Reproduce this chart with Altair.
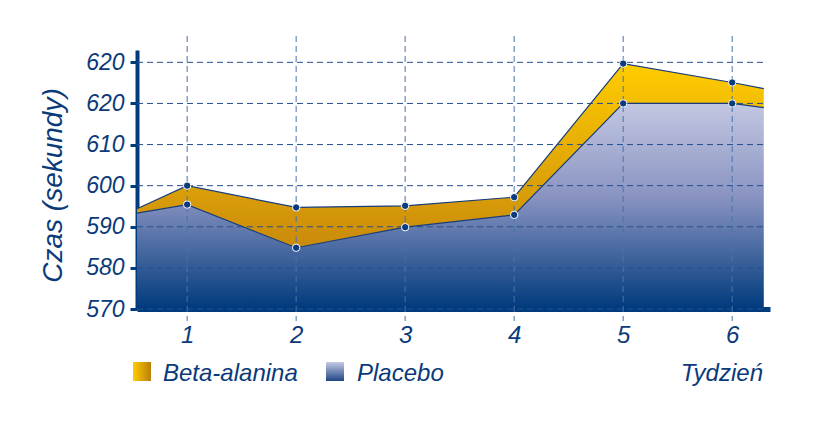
import altair as alt
import pandas as pd

# ---- data ----
weeks = [0.54, 1, 2, 3, 4, 5, 6, 6.29]
beta_alanina = [594.4, 600.0, 594.7, 595.1, 597.2, 629.7, 625.1, 623.6]
placebo = [593.3, 595.4, 584.9, 589.9, 592.9, 620.0, 620.0, 619.0]
point_weeks = [1, 2, 3, 4, 5, 6]
x_tick_values = [1, 2, 3, 4, 5, 6]
y_tick_values = [570, 580, 590, 600, 610, 620, 630]
y_tick_labels = ["570", "580", "590", "600", "610", "620", "620"]
series_names = ["Beta-alanina", "Placebo"]
x_title = "Tydzień"
y_title = "Czas (sekundy)"

df = pd.DataFrame({"week": weeks, "beta": beta_alanina, "placebo": placebo})
pts = df[df["week"].isin(point_weeks)]
ygrid = pd.DataFrame({"v": y_tick_values})
xgrid = pd.DataFrame({"w": x_tick_values})

FONT = "Liberation Sans, Arial, sans-serif"
BLUE = "#0b3a7a"
W, H = 633, 259

xs = alt.Scale(domain=[0.54, 6.347], nice=False, zero=False)
ys = alt.Scale(domain=[570, 633], nice=False, zero=False)

label_expr = "''"
for v, l in zip(y_tick_values, y_tick_labels):
    label_expr = f"datum.value == {v} ? '{l}' : ({label_expr})"

beta_grad = alt.Gradient(gradient="linear", x1=0, x2=0, y1=0, y2=1,
                         stops=[alt.GradientStop(color="#ffcc00", offset=0),
                                alt.GradientStop(color="#c98a0c", offset=1)])
plac_grad = alt.Gradient(gradient="linear", x1=0, x2=0, y1=0, y2=1,
                         stops=[alt.GradientStop(color="#c2c7e1", offset=0),
                                alt.GradientStop(color="#8a94c2", offset=0.45),
                                alt.GradientStop(color="#003a7c", offset=1)])
beta_sw = alt.Gradient(gradient="linear", x1=0, x2=1, y1=0, y2=0,
                       stops=[alt.GradientStop(color="#ffcc00", offset=0),
                              alt.GradientStop(color="#b97f0a", offset=1)])
plac_sw = alt.Gradient(gradient="linear", x1=0, x2=0, y1=0, y2=1,
                       stops=[alt.GradientStop(color="#c5cae3", offset=0),
                              alt.GradientStop(color="#1f4585", offset=1)])

xaxis = alt.Axis(values=x_tick_values, format="d", grid=False, ticks=False, tickSize=0,
                 labelPadding=33, labelBaseline="alphabetic", labelFontSize=24,
                 labelFont=FONT, labelFontStyle="italic", labelColor=BLUE,
                 domainColor="#003c7d", domainWidth=5, title=None, labelAngle=0)
yaxis = alt.Axis(values=y_tick_values, grid=False, labelExpr=label_expr,
                 tickSize=7, tickWidth=3, tickColor="#003c7d", labelPadding=6,
                 labelFontSize=23, labelFont=FONT, labelFontStyle="italic",
                 labelColor=BLUE, domainColor="#003c7d", domainWidth=4,
                 title=y_title, titleFont=FONT, titleFontStyle="italic",
                 titleFontWeight="normal", titleFontSize=28, titleColor=BLUE,
                 titleX=-76, titleY=135, titleAngle=-90, titleAlign="center",
                 titleBaseline="alphabetic")

base = alt.Chart(df)

plac_area = base.mark_area(fill=plac_grad, clip=False).encode(
    x=alt.X("week:Q", scale=xs, axis=xaxis),
    y=alt.Y("placebo:Q", scale=ys, axis=yaxis),
    y2=alt.datum(570),
)
beta_area = base.mark_area(fill=beta_grad).encode(
    x=alt.X("week:Q", scale=xs),
    y=alt.Y("beta:Q", scale=ys),
    y2="placebo:Q",
)
hgrid = alt.Chart(ygrid).mark_rule(color="#244f90", strokeWidth=1, strokeDash=[6, 4]).encode(
    y=alt.Y("v:Q", scale=ys),
    x=alt.value(0), x2=alt.value(W - 5),
)
vgrid = alt.Chart(xgrid).mark_rule(color="#4a72ad", strokeWidth=1, strokeDash=[6, 4]).encode(
    x=alt.X("w:Q", scale=xs),
    y=alt.value(-14), y2=alt.value(H + 12),
)
beta_line = base.mark_line(color="#163d7a", strokeWidth=1.2).encode(
    x=alt.X("week:Q", scale=xs), y=alt.Y("beta:Q", scale=ys))
plac_line = base.mark_line(color="#163d7a", strokeWidth=1.2).encode(
    x=alt.X("week:Q", scale=xs), y=alt.Y("placebo:Q", scale=ys))
beta_pts = alt.Chart(pts).mark_point(filled=True, fill="#0a3b7e", stroke="white",
                                     strokeWidth=1, size=55, opacity=1).encode(
    x=alt.X("week:Q", scale=xs), y=alt.Y("beta:Q", scale=ys))
plac_pts = alt.Chart(pts).mark_point(filled=True, fill="#0a3b7e", stroke="white",
                                     strokeWidth=1, size=55, opacity=1).encode(
    x=alt.X("week:Q", scale=xs), y=alt.Y("placebo:Q", scale=ys))

def one(label):
    return alt.Data(values=[{"label": label}])

sw1 = alt.Chart(one(series_names[0])).mark_rect(fill=beta_sw).encode(
    x=alt.value(-4), x2=alt.value(14), y=alt.value(312), y2=alt.value(331))
sw2 = alt.Chart(one(series_names[1])).mark_rect(fill=plac_sw).encode(
    x=alt.value(189), x2=alt.value(207), y=alt.value(312), y2=alt.value(331))
txt_kw = dict(font=FONT, fontStyle="italic", fontSize=24, color=BLUE,
              baseline="alphabetic")
t1 = alt.Chart(one(series_names[0])).mark_text(align="left", **txt_kw).encode(
    x=alt.value(26), y=alt.value(331), text="label:N")
t2 = alt.Chart(one(series_names[1])).mark_text(align="left", **txt_kw).encode(
    x=alt.value(220), y=alt.value(331), text="label:N")
t3 = alt.Chart(one(x_title)).mark_text(align="right", **txt_kw).encode(
    x=alt.value(626), y=alt.value(331), text="label:N")

chart = alt.layer(
    plac_area, beta_area, hgrid, vgrid, beta_line, plac_line, beta_pts, plac_pts,
    sw1, sw2, t1, t2, t3,
).properties(
    width=W, height=H,
    autosize=alt.AutoSizeParams(type="none"),
    padding={"left": 129, "top": 42, "right": 40, "bottom": 90},
    background="white",
).configure_view(stroke=None)

chart.save("out.html", embed_options={"renderer": "svg", "actions": False})
